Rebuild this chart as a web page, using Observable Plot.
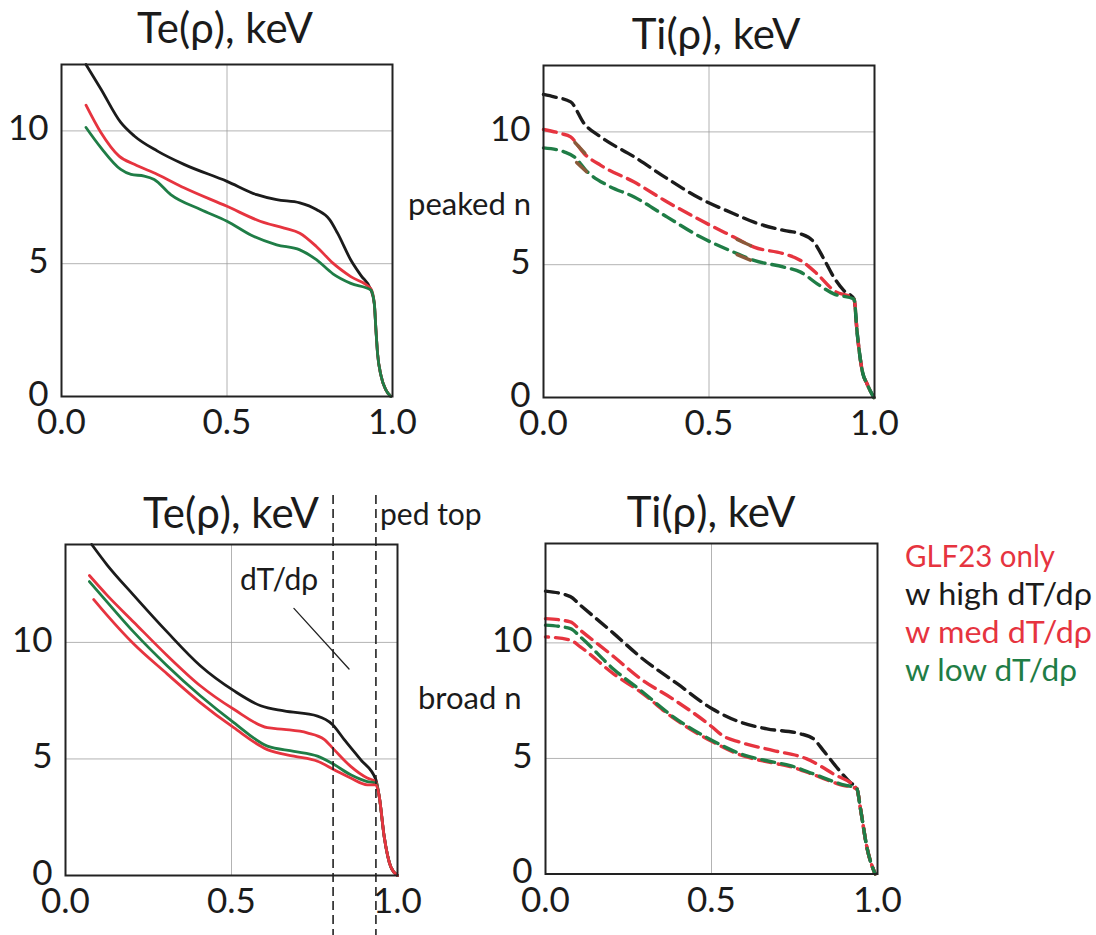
<!DOCTYPE html>
<html><head><meta charset="utf-8">
<script src="https://cdn.jsdelivr.net/npm/d3@7"></script>
<script src="https://cdn.jsdelivr.net/npm/@observablehq/plot@0.6"></script>
<style>
body{margin:0;background:#fff;}
#root{position:relative;width:1096px;height:935px;overflow:hidden;background:#fff;}
.p{position:absolute;}
#overlay{position:absolute;left:0;top:0;pointer-events:none;}
</style></head><body><div id="root"></div>
<script>
// ---------- tick labels ----------
const xTicks = [0, 0.5, 1.0];
const yTicks = [0, 5, 10];
const xGrid = [0.5];
const yGrid = [5, 10];

// ---------- Te, peaked n (top-left) : [rho, keV] ----------
const tePeakedHigh = [[0.074,12.5],[0.119,11.58],[0.179,10.32],[0.22,9.81],[0.29,9.24],[0.37,8.74],[0.50,8.1],[0.59,7.6],[0.65,7.41],[0.72,7.29],[0.77,7.04],[0.81,6.66],[0.834,6.15],[0.874,5.14],[0.905,4.55],[0.935,4.01],[0.945,3.5],[0.95,2.5],[0.955,1.6],[0.965,0.8],[0.98,0.25],[0.995,0]];
const tePeakedMed = [[0.074,10.97],[0.119,9.94],[0.174,9.05],[0.22,8.74],[0.29,8.36],[0.37,7.86],[0.50,7.16],[0.60,6.6],[0.673,6.34],[0.72,6.15],[0.77,5.65],[0.82,5.02],[0.874,4.51],[0.935,4.05],[0.945,3.5],[0.95,2.5],[0.955,1.6],[0.965,0.8],[0.98,0.25],[0.995,0]];
const tePeakedLow = [[0.074,10.13],[0.119,9.37],[0.179,8.55],[0.21,8.36],[0.25,8.3],[0.28,8.17],[0.33,7.6],[0.42,7.04],[0.50,6.6],[0.58,6.03],[0.65,5.71],[0.72,5.52],[0.77,5.15],[0.82,4.62],[0.874,4.26],[0.935,4.01],[0.945,3.5],[0.95,2.5],[0.955,1.6],[0.965,0.8],[0.98,0.25],[0.995,0]];

// ---------- Ti, peaked n (top-right) ----------
const tiPeakedHigh = [[0,11.41],[0.032,11.32],[0.082,11.13],[0.123,10.31],[0.173,9.81],[0.274,9.06],[0.374,8.24],[0.475,7.48],[0.575,6.92],[0.636,6.6],[0.726,6.29],[0.777,6.16],[0.817,5.85],[0.847,5.22],[0.877,4.53],[0.907,4.03],[0.938,3.71],[0.948,2.39],[0.963,1.0],[0.978,0.5],[0.998,0]];
const tiPeakedMed = [[0,10.09],[0.052,9.94],[0.082,9.81],[0.123,9.18],[0.173,8.74],[0.274,8.11],[0.374,7.36],[0.475,6.67],[0.575,6.04],[0.636,5.66],[0.726,5.41],[0.777,5.16],[0.827,4.65],[0.877,4.03],[0.938,3.71],[0.948,2.39],[0.963,1.0],[0.978,0.5],[0.998,0]];
const tiPeakedLow = [[0,9.4],[0.062,9.25],[0.093,9.06],[0.133,8.49],[0.193,7.99],[0.274,7.55],[0.374,6.79],[0.475,6.04],[0.575,5.47],[0.636,5.16],[0.726,4.91],[0.777,4.72],[0.827,4.28],[0.877,3.9],[0.938,3.71],[0.948,2.39],[0.963,1.0],[0.978,0.5],[0.998,0]];
const tiPeakedOverlap = [[0,0.095,9.6],[0,0.125,9.2],[1,0.10,8.85],[1,0.13,8.5],[2,0.585,5.95],[2,0.625,5.72],[3,0.585,5.38],[3,0.625,5.17]];

// ---------- Te, broad n (bottom-left) ----------
const teBroadHigh = [[0.079,14.2],[0.125,13.33],[0.205,12.03],[0.306,10.45],[0.406,9.0],[0.507,7.93],[0.588,7.28],[0.658,7.06],[0.759,6.84],[0.804,6.48],[0.839,5.84],[0.889,4.97],[0.935,4.11],[0.945,3.39],[0.96,1.66],[0.98,0.36],[1.0,0]];
const teBroadMed = [[0.072,12.87],[0.125,12.03],[0.205,10.88],[0.306,9.44],[0.406,8.14],[0.507,7.13],[0.608,6.34],[0.658,6.27],[0.728,6.12],[0.779,5.84],[0.809,5.4],[0.859,4.68],[0.909,4.18],[0.935,4.03],[0.945,3.39],[0.96,1.66],[0.98,0.36],[1.0,0]];
const teBroadLow = [[0.072,12.61],[0.125,11.74],[0.205,10.45],[0.306,9.0],[0.406,7.71],[0.507,6.56],[0.608,5.55],[0.688,5.33],[0.759,5.12],[0.809,4.76],[0.859,4.32],[0.909,4.03],[0.935,3.96],[0.945,3.39],[0.96,1.66],[0.98,0.36],[1.0,0]];
const teBroadGlf = [[0.085,11.84],[0.125,11.17],[0.205,9.94],[0.306,8.65],[0.406,7.42],[0.507,6.34],[0.608,5.4],[0.688,5.12],[0.759,4.9],[0.809,4.54],[0.859,4.18],[0.909,3.89],[0.935,3.89],[0.945,3.39],[0.96,1.66],[0.98,0.36],[1.0,0]];
const dTdrhoPointer = [[0.688,11.46],[0.854,8.86]];
const dashedRho = [0.806, 0.935];

// ---------- Ti, broad n (bottom-right) ----------
const tiBroadHigh = [[0,12.24],[0.075,12.0],[0.105,11.63],[0.206,10.4],[0.286,9.39],[0.4,8.2],[0.502,7.15],[0.587,6.57],[0.667,6.28],[0.767,6.07],[0.807,5.85],[0.837,5.34],[0.877,4.62],[0.917,3.97],[0.938,3.7],[0.948,2.89],[0.968,1.16],[0.993,0]];
const tiBroadMed = [[0,11.05],[0.075,10.91],[0.105,10.55],[0.206,9.4],[0.286,8.45],[0.386,7.55],[0.502,6.36],[0.532,6.0],[0.587,5.7],[0.687,5.34],[0.787,4.98],[0.867,4.33],[0.938,3.68],[0.948,2.89],[0.968,1.16],[0.993,0]];
const tiBroadLow = [[0,10.77],[0.075,10.62],[0.105,10.26],[0.206,8.85],[0.286,7.95],[0.386,6.79],[0.502,5.78],[0.587,5.2],[0.687,4.84],[0.737,4.69],[0.807,4.33],[0.887,3.9],[0.938,3.68],[0.948,2.89],[0.968,1.16],[0.993,0]];
const tiBroadGlf = [[0,10.26],[0.075,10.12],[0.105,9.83],[0.206,8.65],[0.286,7.88],[0.386,6.74],[0.502,5.73],[0.587,5.15],[0.687,4.8],[0.737,4.65],[0.807,4.3],[0.887,3.87],[0.938,3.68],[0.948,2.89],[0.968,1.16],[0.993,0]];

// ---------- legend ----------
const legendLabels = ["GLF23 only", "w high dT/d\u03c1", "w med dT/d\u03c1", "w low dT/d\u03c1"];

// ---------- styles ----------
const FONT = "Lato, 'Noto Sans', 'Open Sans', sans-serif";
const BLACK = "#1b1b1b", RED = "#e6343f", GREEN = "#1f7d46", BROWN = "#8a5a3a";
const legendColors = [RED, BLACK, RED, GREEN];
const legendWidths = [150, 187, 187, 172];
const DASH = "13,7";

const root = document.getElementById("root");

function line(data, color, dashed, extra = {}) {
  return Plot.line(data, {x: d => d[0], y: d => d[1], stroke: color, strokeWidth: dashed ? 3.4 : 2.8,
    curve: "monotone-x", strokeDasharray: dashed ? DASH : null, ...extra});
}

function panel({left, top, width, height, ml, mr, mt, mb, yMax, marks, after = []}) {
  const svg = Plot.plot({
    width, height, marginLeft: ml, marginRight: mr, marginTop: mt, marginBottom: mb,
    x: {domain: [0, 1]}, y: {domain: [0, yMax]},
    style: {fontFamily: FONT, background: "transparent", overflow: "visible", color: "#1b1b1b"},
    marks: [
      Plot.gridX(xGrid, {stroke: "#9a9a9a", strokeOpacity: 0.75, strokeWidth: 1}),
      Plot.gridY(yGrid, {stroke: "#9a9a9a", strokeOpacity: 0.75, strokeWidth: 1}),
      ...marks,
      Plot.frame({stroke: "#222", strokeWidth: 2}),
      Plot.axisX(xTicks, {tickSize: 0, tickPadding: 13, fontSize: 35, tickFormat: d3.format(".1f"), fill: "#1b1b1b"}),
      Plot.axisY(yTicks, {tickSize: 0, tickPadding: 13, fontSize: 35, fill: "#1b1b1b", dy: -2}),
      ...after
    ]
  });
  svg.classList.add("p");
  svg.style.left = left + "px";
  svg.style.top = top + "px";
  root.appendChild(svg);
}

// top-left: Te peaked
panel({left: 0, top: 0, width: 440, height: 450, ml: 61, mr: 48, mt: 64, mb: 54, yMax: 12.5,
  marks: [line(tePeakedHigh, BLACK), line(tePeakedMed, RED), line(tePeakedLow, GREEN)]});

// top-right: Ti peaked
panel({left: 470, top: 0, width: 450, height: 450, ml: 73, mr: 46, mt: 65, mb: 53, yMax: 12.5,
  marks: [line(tiPeakedHigh, BLACK, true), line(tiPeakedMed, RED, true), line(tiPeakedLow, GREEN, true),
    Plot.line(tiPeakedOverlap, {x: d => d[1], y: d => d[2], z: d => d[0], stroke: BROWN, strokeWidth: 3.4})]});

// bottom-left: Te broad
panel({left: 0, top: 470, width: 440, height: 465, ml: 65, mr: 43, mt: 74, mb: 60, yMax: 14.2,
  marks: [line(teBroadHigh, BLACK), line(teBroadMed, RED), line(teBroadLow, GREEN), line(teBroadGlf, RED)],
  after: [
    Plot.ruleX(dashedRho, {x: d => d, y1: () => 16.3, y2: () => -2.8, stroke: "#222", strokeWidth: 1.6, strokeDasharray: "9,5"}),
    Plot.line(dTdrhoPointer, {x: d => d[0], y: d => d[1], stroke: "#222", strokeWidth: 1.3})
  ]});

// bottom-right: Ti broad
panel({left: 470, top: 470, width: 450, height: 465, ml: 75, mr: 43, mt: 73, mb: 61.5, yMax: 14.3,
  marks: [line(tiBroadHigh, BLACK, true), line(tiBroadMed, RED, true),
    line(tiBroadGlf, RED, true, {strokeDashoffset: 10}), line(tiBroadLow, GREEN, true)]});

// ---------- overlay texts ----------
const ov = d3.select(root).append("svg").attr("id", "overlay").attr("width", 1096).attr("height", 935)
  .style("font-family", FONT);
const titles = [
  {t: "Te(\u03c1), keV", x: 225, y: 43},
  {t: "Ti(\u03c1), keV", x: 716, y: 49},
  {t: "Te(\u03c1), keV", x: 231, y: 528},
  {t: "Ti(\u03c1), keV", x: 711, y: 527}
];
ov.selectAll("text.title").data(titles).join("text").attr("class", "title")
  .attr("x", d => d.x).attr("y", d => d.y).attr("text-anchor", "middle")
  .attr("font-size", 42).attr("fill", "#1b1b1b").text(d => d.t);

const notes = [
  {t: "peaked n", x: 408, y: 215, s: 31},
  {t: "broad n", x: 418, y: 709, s: 31},
  {t: "ped top", x: 380, y: 525, s: 30},
  {t: "dT/d\u03c1", x: 240, y: 590, s: 30}
];
ov.selectAll("text.note").data(notes).join("text").attr("class", "note")
  .attr("x", d => d.x).attr("y", d => d.y).attr("font-size", d => d.s).attr("fill", "#1b1b1b").text(d => d.t);

const legendY = [567, 605, 643, 681];
ov.selectAll("text.leg").data(legendLabels).join("text").attr("class", "leg")
  .attr("x", 905).attr("y", (d, i) => legendY[i]).attr("font-size", 30)
  .attr("textLength", (d, i) => legendWidths[i]).attr("lengthAdjust", "spacingAndGlyphs")
  .attr("fill", (d, i) => legendColors[i]).text(d => d);
</script></body></html>
